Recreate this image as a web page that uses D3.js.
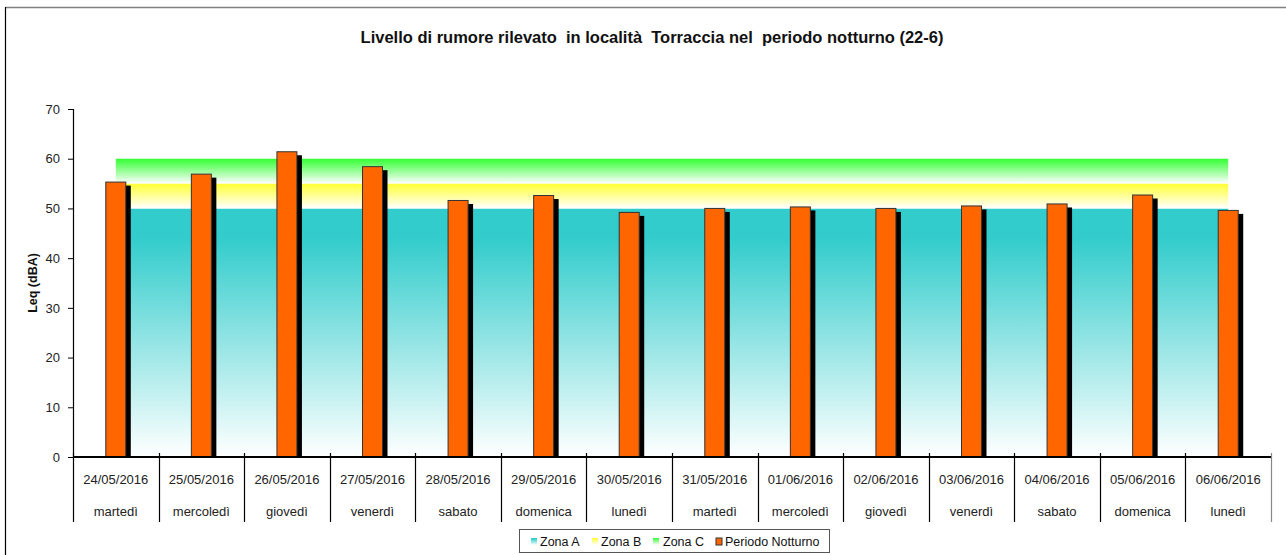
<!DOCTYPE html>
<html lang="it">
  <head>
    <meta charset="utf-8">
    <title>Livello di rumore - Torraccia notturno</title>
    <script src="https://d3js.org/d3.v7.min.js"></script>
    <style>
      body {
        margin: 0;
        background-color: white;
      }
      svg {
        display: block;
        font-family: "Liberation Sans", Arial, sans-serif;
      }
    </style>
  </head>
  <body>
    <script>
      var w = 1286;
      var h = 555;

      // data
      var dates = ["24/05/2016", "25/05/2016", "26/05/2016", "27/05/2016", "28/05/2016", "29/05/2016", "30/05/2016",
                   "31/05/2016", "01/06/2016", "02/06/2016", "03/06/2016", "04/06/2016", "05/06/2016", "06/06/2016"];
      var giorni = ["martedì", "mercoledì", "giovedì", "venerdì", "sabato", "domenica", "lunedì",
                    "martedì", "mercoledì", "giovedì", "venerdì", "sabato", "domenica", "lunedì"];
      var notturno = [55.3, 56.9, 61.4, 58.4, 51.6, 52.6, 49.2, 50.0, 50.3, 50.0, 50.5, 50.9, 52.7, 49.6];
      var zonaA = [50, 50, 50, 50, 50, 50, 50, 50, 50, 50, 50, 50, 50, 50];
      var zonaB = [5, 5, 5, 5, 5, 5, 5, 5, 5, 5, 5, 5, 5, 5];
      var zonaC = [5, 5, 5, 5, 5, 5, 5, 5, 5, 5, 5, 5, 5, 5];
      var yTicks = [0, 10, 20, 30, 40, 50, 60, 70];

      var margin = {left: 73, right: 15, top: 109, bottom: 98};

      var svg = d3.select("body").append("svg")
        .attr("width", w)
        .attr("height", h);

      var defs = svg.append("defs");
      function grad(id, col, mid) {
        var g = defs.append("linearGradient").attr("id", id)
          .attr("x1", 0).attr("y1", 0).attr("x2", 0).attr("y2", 1);
        g.append("stop").attr("offset", "0%").attr("stop-color", col);
        if (mid) g.append("stop").attr("offset", mid).attr("stop-color", col);
        g.append("stop").attr("offset", "100%").attr("stop-color", "#ffffff");
      }
      grad("gA", "#33cccc", "12%");
      grad("gB", "#ffff33");
      grad("gC", "#33ff33");

      // outer chart border (runs off the picture at right and bottom)
      svg.append("line").attr("x1", 5.5).attr("x2", w).attr("y1", 7.5).attr("y2", 7.5)
        .attr("stroke", "#808080").attr("stroke-width", 1.5);
      svg.append("line").attr("x1", 5.5).attr("x2", 5.5).attr("y1", 7).attr("y2", h)
        .attr("stroke", "#000").attr("stroke-width", 1.2);

      var x = d3.scaleBand()
        .domain(dates)
        .range([margin.left, w - margin.right])
        .paddingInner(0).paddingOuter(0);

      var y = d3.scaleLinear()
        .domain([0, 70])
        .range([h - margin.bottom, margin.top]);

      // zones as stacked areas
      var rows = dates.map(function(d, i) {
        return {date: d, A: zonaA[i], B: zonaB[i], C: zonaC[i]};
      });
      var stacked = d3.stack().keys(["A", "B", "C"])(rows);
      var fills = {A: "url(#gA)", B: "url(#gB)", C: "url(#gC)"};

      var area = d3.area()
        .x(function(d) { return x(d.data.date) + x.bandwidth() / 2; })
        .y0(function(d) { return y(d[0]); })
        .y1(function(d) { return y(d[1]); });

      svg.append("g").selectAll("path")
        .data(stacked)
        .enter().append("path")
        .attr("d", area)
        .attr("fill", function(d) { return fills[d.key]; });

      // bars with offset shadow
      var bw = 20;
      var bars = svg.append("g");
      bars.selectAll("rect.shadow")
        .data(notturno)
        .enter().append("rect")
        .attr("class", "shadow")
        .attr("x", function(d, i) { return x(dates[i]) + x.bandwidth() / 2 - bw / 2 + 5; })
        .attr("y", function(d) { return y(d) + 3.5; })
        .attr("width", bw)
        .attr("height", function(d) { return y(0) - y(d) - 3.5; })
        .attr("fill", "#000");
      bars.selectAll("rect.bar")
        .data(notturno)
        .enter().append("rect")
        .attr("class", "bar")
        .attr("x", function(d, i) { return x(dates[i]) + x.bandwidth() / 2 - bw / 2; })
        .attr("y", function(d) { return y(d); })
        .attr("width", bw)
        .attr("height", function(d) { return y(0) - y(d); })
        .attr("fill", "#ff6600")
        .attr("stroke", "#333")
        .attr("stroke-width", 1);

      // y axis
      var yAxis = svg.append("g")
        .attr("transform", "translate(" + margin.left + ",0)")
        .call(d3.axisLeft(y).tickValues(yTicks).tickSize(5).tickPadding(8));
      yAxis.select(".domain").attr("stroke", "#000").attr("stroke-width", 1.2);
      yAxis.selectAll(".tick line").attr("stroke", "#000");
      yAxis.selectAll(".tick text").attr("font-size", 13).attr("fill", "#222")
        .attr("font-family", "Liberation Sans, Arial, sans-serif");

      svg.append("text")
        .attr("transform", "translate(37," + y(35) + ") rotate(-90)")
        .attr("text-anchor", "middle")
        .attr("font-size", 12.5)
        .attr("font-weight", "bold")
        .attr("fill", "#111")
        .text("Leq (dBA)");

      // x axis, two level category labels
      var y0 = y(0);
      svg.append("line")
        .attr("x1", margin.left).attr("x2", w - margin.right)
        .attr("y1", y0).attr("y2", y0)
        .attr("stroke", "#000").attr("stroke-width", 2);

      var bounds = dates.map(function(d) { return x(d); }).concat([x(dates[dates.length - 1]) + x.bandwidth()]);
      svg.append("g").selectAll("line")
        .data(bounds)
        .enter().append("line")
        .attr("x1", function(d) { return Math.round(d) + 0.5; })
        .attr("x2", function(d) { return Math.round(d) + 0.5; })
        .attr("y1", y0 - 4)
        .attr("y2", y0 + 65)
        .attr("stroke", function(d, i) { return i === bounds.length - 1 ? "#888" : "#000"; })
        .attr("stroke-width", 1.2);

      var labels = svg.append("g").attr("font-size", 13).attr("fill", "#222").attr("text-anchor", "middle");
      labels.selectAll("text.date")
        .data(dates)
        .enter().append("text")
        .attr("class", "date")
        .attr("x", function(d) { return x(d) + x.bandwidth() / 2; })
        .attr("y", y0 + 27)
        .text(function(d) { return d; });
      labels.selectAll("text.day")
        .data(giorni)
        .enter().append("text")
        .attr("class", "day")
        .attr("x", function(d, i) { return x(dates[i]) + x.bandwidth() / 2; })
        .attr("y", y0 + 59)
        .text(function(d) { return d; });

      // title
      svg.append("text")
        .attr("x", 652)
        .attr("y", 43)
        .attr("text-anchor", "middle")
        .attr("font-size", 16.5)
        .attr("font-weight", "bold")
        .attr("fill", "#111")
        .attr("xml:space", "preserve")
        .text("Livello di rumore rilevato  in località  Torraccia nel  periodo notturno (22-6)");

      // legend
      var leg = svg.append("g");
      leg.append("rect")
        .attr("x", 519.5).attr("y", 529.5).attr("width", 310).attr("height", 23)
        .attr("fill", "#fff").attr("stroke", "#555").attr("stroke-width", 1);
      var items = [
        {name: "Zona A", fill: "url(#gA)", sx: 531, tx: 540},
        {name: "Zona B", fill: "url(#gB)", sx: 592, tx: 601},
        {name: "Zona C", fill: "url(#gC)", sx: 653, tx: 663},
        {name: "Periodo Notturno", fill: "#ff6600", sx: 716, tx: 725}
      ];
      var li = leg.selectAll("g.item").data(items).enter().append("g").attr("class", "item");
      li.append("rect")
        .attr("x", function(d) { return d.sx; })
        .attr("y", 538)
        .attr("width", 6).attr("height", 7)
        .attr("fill", function(d) { return d.fill; })
        .attr("stroke", function(d) { return d.name === "Periodo Notturno" ? "#333" : "none"; });
      li.append("text")
        .attr("x", function(d) { return d.tx; })
        .attr("y", 546)
        .attr("font-size", 12.5)
        .attr("fill", "#111")
        .text(function(d) { return d.name; });
    </script>
  </body>
</html>
